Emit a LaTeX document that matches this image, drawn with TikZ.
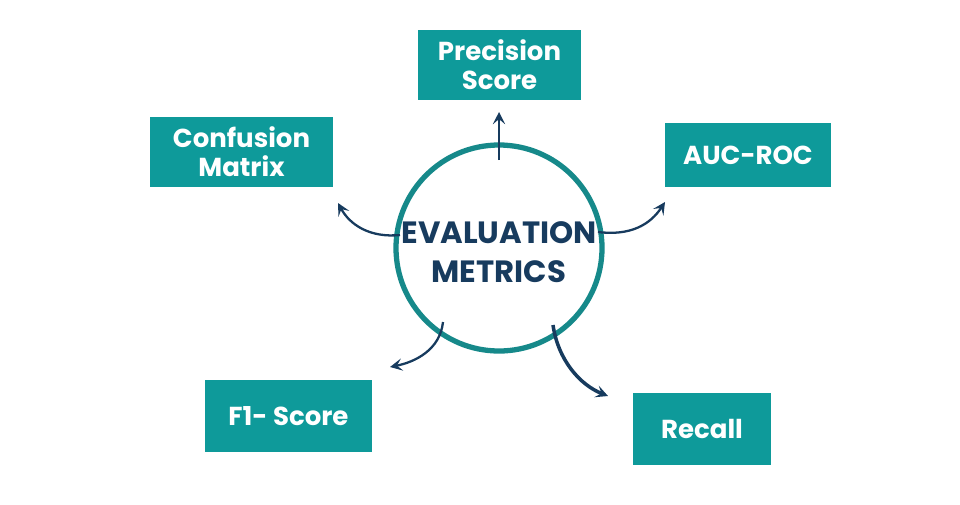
\documentclass[tikz,border=0pt]{standalone}
\usepackage{fontspec}
\setmainfont{Poppins}
\usetikzlibrary{arrows.meta}
\definecolor{tealbox}{HTML}{0E9A9A}
\definecolor{ringcol}{HTML}{16898A}
\definecolor{navy}{HTML}{173B5E}
\begin{document}
\begin{tikzpicture}[x=0.02cm,y=-0.02cm,
    metric/.style = {fill=tealbox, text=white, font=\bfseries\fontsize{14.8}{16.5}\selectfont, align=center, inner sep=0pt},
    link/.style = {navy, line width=1.3pt, -{Stealth[length=7pt,width=7pt,inset=3pt]}}]
    \useasboundingbox (0,0) rectangle (960,504);
    \node[circle, draw=ringcol, line width=3pt, minimum size=206*0.02cm, inner sep=0pt] (hub) at (499,248) {};
    \node[text=navy, font=\bfseries\fontsize{17.5}{22}\selectfont, align=center] (title) at (499,252) {EVALUATION\\METRICS};
    \node[metric, minimum width=163*0.02cm, minimum height=70*0.02cm] (prec) at (499.5,65) {Precision\\Score};
    \node[metric, minimum width=183*0.02cm, minimum height=70*0.02cm] (conf) at (241.5,152) {Confusion\\Matrix};
    \node[metric, minimum width=166*0.02cm, minimum height=64*0.02cm] (auc) at (748,155) {AUC-ROC};
    \node[metric, minimum width=167*0.02cm, minimum height=72*0.02cm] (f1) at (288.5,416) {F1- Score};
    \node[metric, minimum width=138*0.02cm, minimum height=72*0.02cm] (rec) at (702,429) {Recall};
    % arrow ends
    \coordinate (toprec) at (499,112);
    \coordinate (toconf) at (338,203);
    \coordinate (toauc) at (665,202);
    \coordinate (tof1) at (390,367);
    \coordinate (torec) at (608,396);
    \draw[link, line width=1pt] (499,160) -- (toprec);
    \draw[link] (400,235) .. controls (370,238) and (350,225) .. (toconf);
    \draw[link] (598,232) .. controls (630,236) and (650,225) .. (toauc);
    \draw[link] (443,322) .. controls (440,350) and (415,362) .. (tof1);
    \draw[link, line width=2pt] (553,325) .. controls (558,360) and (580,385) .. (torec);
\end{tikzpicture}
\end{document}
